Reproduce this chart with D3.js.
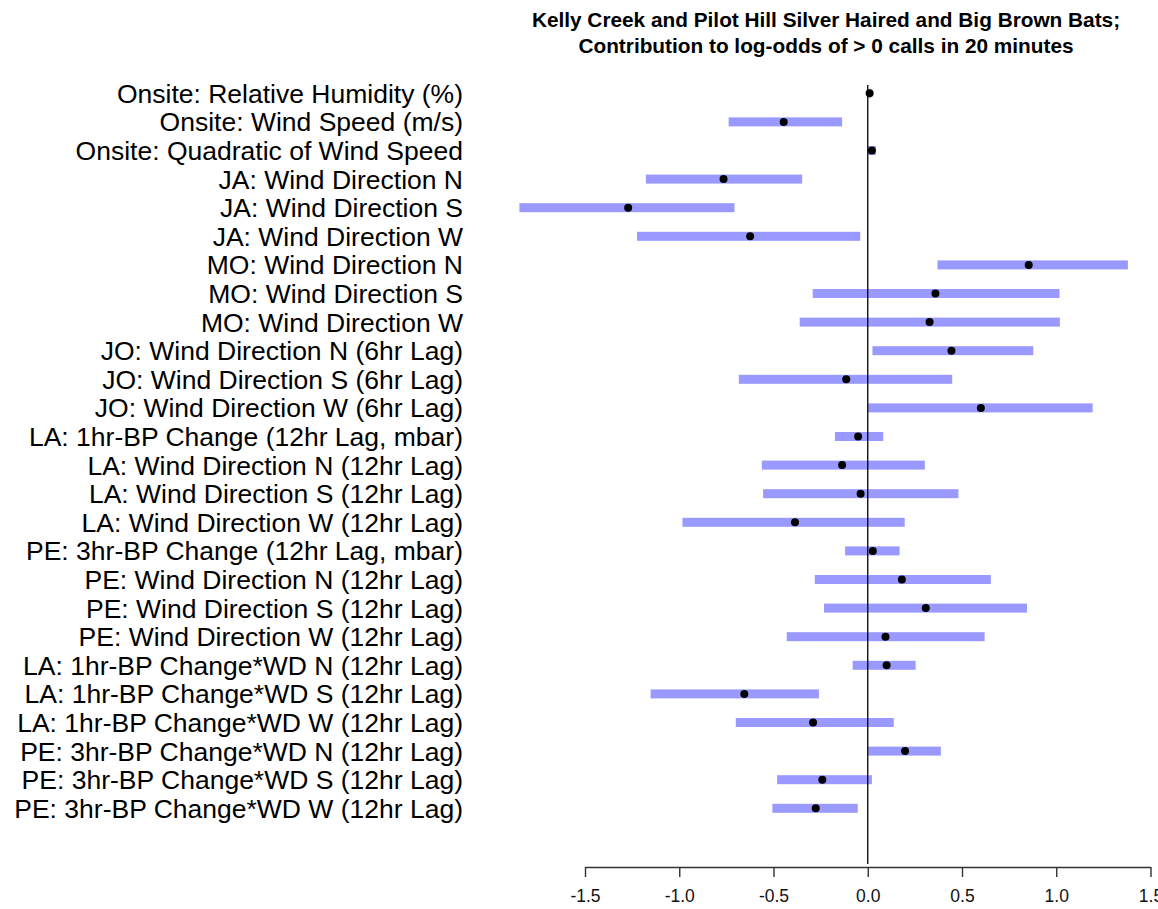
<!DOCTYPE html>
<html>
<head>
<meta charset="utf-8">
<script src="https://cdn.jsdelivr.net/npm/d3@7"></script>
<style>
  body { margin: 0; background: #fff; }
  svg { display: block; font-family: "Liberation Sans", Arial, sans-serif; }
</style>
</head>
<body>
<div id="chart"></div>
<script>
// predictors, top to bottom
const labels = [
  "Onsite: Relative Humidity (%)",
  "Onsite: Wind Speed (m/s)",
  "Onsite: Quadratic of Wind Speed",
  "JA: Wind Direction N",
  "JA: Wind Direction S",
  "JA: Wind Direction W",
  "MO: Wind Direction N",
  "MO: Wind Direction S",
  "MO: Wind Direction W",
  "JO: Wind Direction N (6hr Lag)",
  "JO: Wind Direction S (6hr Lag)",
  "JO: Wind Direction W (6hr Lag)",
  "LA: 1hr-BP Change (12hr Lag, mbar)",
  "LA: Wind Direction N (12hr Lag)",
  "LA: Wind Direction S (12hr Lag)",
  "LA: Wind Direction W (12hr Lag)",
  "PE: 3hr-BP Change (12hr Lag, mbar)",
  "PE: Wind Direction N (12hr Lag)",
  "PE: Wind Direction S (12hr Lag)",
  "PE: Wind Direction W (12hr Lag)",
  "LA: 1hr-BP Change*WD N (12hr Lag)",
  "LA: 1hr-BP Change*WD S (12hr Lag)",
  "LA: 1hr-BP Change*WD W (12hr Lag)",
  "PE: 3hr-BP Change*WD N (12hr Lag)",
  "PE: 3hr-BP Change*WD S (12hr Lag)",
  "PE: 3hr-BP Change*WD W (12hr Lag)"
]

// estimates and interval ends
const estimate = [0.01, -0.446, 0.022, -0.765, -1.271, -0.624, 0.854, 0.359, 0.328,
  0.444, -0.114, 0.600, -0.051, -0.136, -0.038, -0.386, 0.027, 0.181, 0.308, 0.094,
  0.100, -0.655, -0.290, 0.198, -0.241, -0.276]
const lower = [0.004, -0.738, 0.002, -1.177, -1.848, -1.224, 0.370, -0.292, -0.361,
  0.025, -0.684, 0.002, -0.174, -0.562, -0.555, -0.983, -0.120, -0.281, -0.232, -0.430,
  -0.080, -1.152, -0.700, 0.002, -0.481, -0.506]
const upper = [0.016, -0.136, 0.043, -0.348, -0.707, -0.040, 1.380, 1.017, 1.019,
  0.878, 0.448, 1.193, 0.082, 0.303, 0.481, 0.196, 0.169, 0.653, 0.845, 0.620,
  0.254, -0.259, 0.138, 0.388, 0.022, -0.053]

const xTicks = [-1.5, -1.0, -0.5, 0.0, 0.5, 1.0, 1.5]
const titleLines = [
  "Kelly Creek and Pilot Hill Silver Haired and Big Brown Bats;",
  "Contribution to log-odds of > 0 calls in 20 minutes"
]

const width = 1158
const height = 909

const svg = d3.select("#chart").append("svg").attr("width", width).attr("height", height)

//escalas
const x = d3.scaleLinear().domain([-1.5, 1.5]).range([585, 1150.5])
const y = d3.scalePoint().domain(labels).range([93.3, 808.3])

const data = labels.map((d, i) => ({ label: d, est: estimate[i], lo: lower[i], hi: upper[i] }))

// bars
svg.append("g").selectAll("rect").data(data).enter().append("rect")
  .attr("x", d => x(d.lo))
  .attr("y", d => y(d.label) - 4.5)
  .attr("width", d => x(d.hi) - x(d.lo))
  .attr("height", 9)
  .attr("fill", "#9999ff")

// zero line
svg.append("line")
  .attr("x1", x(0)).attr("x2", x(0))
  .attr("y1", 85).attr("y2", 864)
  .attr("stroke", "#000").attr("stroke-width", 1.3)

// points
svg.append("g").selectAll("circle").data(data).enter().append("circle")
  .attr("cx", d => x(d.est))
  .attr("cy", d => y(d.label))
  .attr("r", 4)
  .attr("fill", "#000")

// labels
svg.append("g").selectAll("text").data(labels).enter().append("text")
  .attr("x", 463)
  .attr("y", d => y(d))
  .attr("dy", "0.36em")
  .attr("text-anchor", "end")
  .attr("font-size", 26.5)
  .attr("fill", "#000")
  .text(d => d)

// x axis
const xAxis = d3.axisBottom(x).tickValues(xTicks).tickFormat(d => d.toFixed(1))
  .tickSizeInner(10).tickSizeOuter(0).tickPadding(13)
const xAxisGroup = svg.append("g").attr("transform", "translate(0, 867)").call(xAxis)
xAxisGroup.attr("font-size", 17.5).attr("font-family", "Liberation Sans, Arial, sans-serif")
xAxisGroup.selectAll("path, line").attr("stroke", "#333").attr("stroke-width", 1.4)
xAxisGroup.selectAll("text").attr("fill", "#111")

//titulo
svg.append("g").selectAll("text").data(titleLines).enter().append("text")
  .attr("x", 826)
  .attr("y", (d, i) => 27 + i * 25.5)
  .attr("text-anchor", "middle")
  .attr("font-size", 20.8)
  .attr("font-weight", "bold")
  .text(d => d)
</script>
</body>
</html>
